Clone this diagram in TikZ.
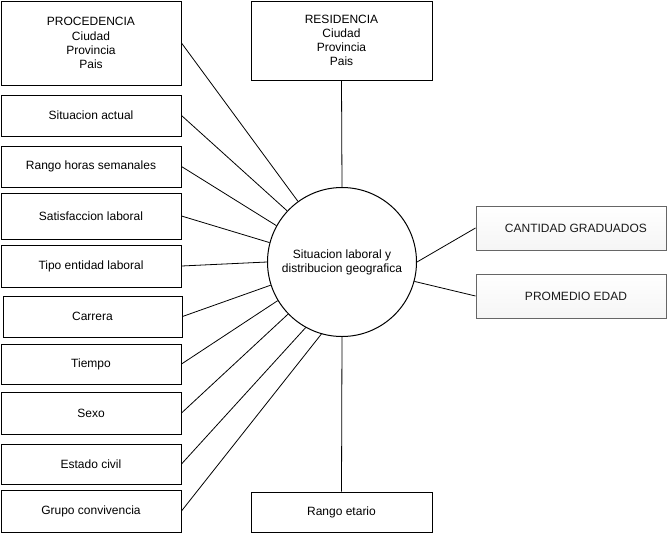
\documentclass[tikz,border=0pt]{standalone}
\usepackage{fontspec}
\setmainfont{Liberation Sans}
\usetikzlibrary{calc}
\usetikzlibrary{positioning}
\usetikzlibrary{shapes.geometric}
\definecolor{BoxGray}{HTML}{F5F5F5}
\definecolor{EdgeGray}{HTML}{666666}
\definecolor{TextGray}{HTML}{1A1A1A}
\tikzset{
  attr/.style={draw, line width=1pt, inner sep=0pt, minimum width=180pt,
    align=center, font=\fontsize{12}{14.2}\selectfont},
  measure/.style={draw=EdgeGray, line width=1pt, inner sep=0pt, minimum width=190pt,
    minimum height=44pt, text=TextGray, top color=white, bottom color=BoxGray,
    font=\fontsize{12}{14.2}\selectfont},
  hub/.style={circle, draw, line width=1pt, minimum size=149pt, inner sep=0pt,
    align=center, font=\fontsize{12}{14.2}\selectfont},
  link/.style={line width=0.8pt}
}
\begin{document}
\begin{tikzpicture}[x=1pt,y=-1pt]
  \useasboundingbox (0,0) rectangle (667,539);

  \node[hub] (hecho) at (342,262) {Situacion laboral y\\distribucion geografica};

  \node[attr, minimum height=84pt] (proc) at (91,43) {PROCEDENCIA\\Ciudad\\Provincia\\Pais};
  \node[attr, minimum height=41pt] (sit) at (91,115.5) {Situacion actual};
  \node[attr, minimum height=41pt] (horas) at (91,166.5) {Rango horas semanales};
  \node[attr, minimum height=46pt] (satis) at (91,216) {Satisfaccion laboral};
  \node[attr, minimum height=42pt] (tipo) at (91,266) {Tipo entidad laboral};
  \node[attr, minimum height=41pt, minimum width=179pt] (carrera) at (92.5,316.5) {Carrera};
  \node[attr, minimum height=40pt] (tiempo) at (91,364) {Tiempo};
  \node[attr, minimum height=42pt] (sexo) at (91,413) {Sexo};
  \node[attr, minimum height=40pt] (civil) at (91,464) {Estado civil};
  \node[attr, minimum height=42pt] (grupo) at (91,511) {Grupo convivencia};

  \node[attr, minimum height=79pt, minimum width=181pt] (resid) at (341.5,40.5) {RESIDENCIA\\Ciudad\\Provincia\\Pais};
  \node[attr, minimum height=40pt, minimum width=181pt] (etario) at (341.5,512) {Rango etario};

  \node[measure] (cant) at (571,228) {\hspace*{10pt}CANTIDAD GRADUADOS};
  \node[measure] (prom) at (571,296) {\hspace*{10pt}PROMEDIO EDAD};

  \foreach \n/\a in {proc/126.9, sit/137.7, horas/151.9, satis/165, tipo/180,
      carrera/198.3, tiempo/211.7, sexo/224.1, civil/241.9, grupo/254.5}
    \draw[link] (\n.east) -- (hecho.\a);

  \draw[link] (resid.south) -- (hecho.north);
  \draw[link] (etario.north) -- (hecho.south);
  \draw[link] (hecho.0) -- (cant.west);
  \draw[link] (hecho.-15.3) -- (prom.west);

\end{tikzpicture}
\end{document}
